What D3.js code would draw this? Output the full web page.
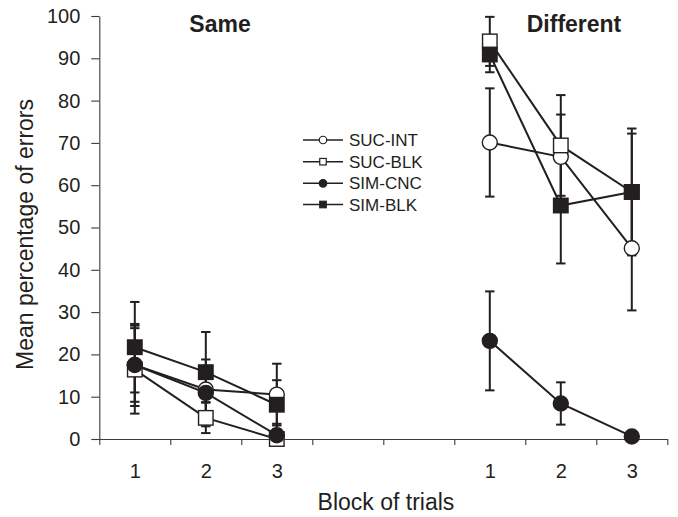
<!DOCTYPE html>
<html>
<head>
<meta charset="utf-8">
<script src="https://cdn.jsdelivr.net/npm/d3@7"></script>
<style>
  body { margin: 0; background: #fff; }
  svg { display: block; font-family: "Liberation Sans", Arial, Helvetica, sans-serif; }
</style>
</head>
<body>
<svg id="chart" width="678" height="517"></svg>
<script>
// ---- data ----
const groups = ["Same", "Different"];
const blocks = ["1", "2", "3"];
const seriesNames = ["SUC-INT", "SUC-BLK", "SIM-CNC", "SIM-BLK"];
const seriesFill = ["#fff", "#fff", "#231f20", "#231f20"];
const seriesShape = ["circle", "square", "circle", "square"];

// means: [Same b1,b2,b3, Different b1,b2,b3]
const sucInt = [17.5, 11.7, 10.5, 70.1, 66.7, 45.1];
const sucBlk = [16.4, 5.0, 0.0, 94.0, 69.4, 58.4];
const simCnc = [17.5, 10.9, 0.9, 23.2, 8.4, 0.6];
const simBlk = [21.7, 15.8, 8.1, 90.9, 55.2, 58.4];

// error (half-width)
const sucIntErr = [9.7, 3.0, 7.3, 12.8, 10.0, 14.7];
const sucBlkErr = [10.4, 3.6, 2.2, 5.8, 11.9, 13.8];
const simCncErr = [8.7, 7.9, 2.7, 11.7, 5.0, 0.4];
const simBlkErr = [10.7, 9.5, 5.8, 4.2, 13.7, 15.0];

const yTicks = [0, 10, 20, 30, 40, 50, 60, 70, 80, 90, 100];
const xTickSlots = [0, 1, 2, 3, 4, 5, 6, 7, 8];
const pointSlots = [0.5, 1.5, 2.5, 5.5, 6.5, 7.5];

const seriesValues = [sucInt, sucBlk, simCnc, simBlk];
const seriesErrors = [sucIntErr, sucBlkErr, simCncErr, simBlkErr];

// ---- drawing ----
const ink = "#231f20";
const svg = d3.select("#chart");
const x = d3.scaleLinear().domain([0, 8]).range([99.3, 667.3]);
const y = d3.scaleLinear().domain([0, 100]).range([439, 16]);

// axes
const yAxis = svg.append("g").attr("transform", `translate(${x(0)},0)`)
  .call(d3.axisLeft(y).tickValues(yTicks).tickSize(8).tickSizeOuter(0).tickPadding(11));
const xAxis = svg.append("g").attr("transform", `translate(0,${y(0)})`)
  .call(d3.axisBottom(x).tickValues(xTickSlots).tickSize(6).tickSizeOuter(0).tickFormat(""));
const xLab = svg.append("g").attr("transform", `translate(0,${y(0)})`)
  .call(d3.axisBottom(x).tickValues(pointSlots).tickSize(0).tickPadding(25)
    .tickFormat((d, i) => blocks[i % 3]));
xLab.select(".domain").remove();

[yAxis, xAxis, xLab].forEach(g => {
  g.selectAll("path,line").attr("stroke", "#3a3a3a").attr("stroke-width", 1.1);
  g.selectAll("text").attr("font-size", 20).attr("fill", ink)
    .attr("font-family", "Liberation Sans, Arial, sans-serif");
});

// axis titles
svg.append("text").attr("x", 386).attr("y", 510).attr("text-anchor", "middle")
  .attr("font-size", 23).attr("fill", ink).text("Block of trials");
svg.append("text").attr("transform", `translate(33,${(97 + 372) / 2}) rotate(-90)`)
  .attr("text-anchor", "middle").attr("font-size", 23).attr("fill", ink)
  .text("Mean percentage of errors");

// group titles
svg.append("text").attr("x", 220).attr("y", 32).attr("text-anchor", "middle")
  .attr("font-size", 23).attr("font-weight", "bold").attr("fill", ink).text(groups[0]);
svg.append("text").attr("x", 574).attr("y", 32).attr("text-anchor", "middle")
  .attr("font-size", 23).attr("font-weight", "bold").attr("fill", ink).text(groups[1]);

// error bars
const capW = 4.7;
seriesValues.forEach((vals, s) => {
  const g = svg.append("g").attr("stroke", ink).attr("stroke-width", 2);
  vals.forEach((v, i) => {
    const e = seriesErrors[s][i];
    const cx = x(pointSlots[i]);
    const hi = v + e, lo = Math.max(0, v - e);
    g.append("line").attr("x1", cx).attr("x2", cx).attr("y1", y(hi)).attr("y2", y(lo));
    g.append("line").attr("x1", cx - capW).attr("x2", cx + capW).attr("y1", y(hi)).attr("y2", y(hi));
    if (v - e > 0)
      g.append("line").attr("x1", cx - capW).attr("x2", cx + capW).attr("y1", y(lo)).attr("y2", y(lo));
  });
});

// lines (each group separately)
const line = d3.line().x(d => x(d[0])).y(d => y(d[1]));
seriesValues.forEach((vals, s) => {
  [[0, 1, 2], [3, 4, 5]].forEach(idx => {
    svg.append("path")
      .attr("d", line(idx.map(i => [pointSlots[i], vals[i]])))
      .attr("fill", "none").attr("stroke", ink).attr("stroke-width", 2);
  });
});

// markers
function marker(g, shape, cx, cy, size, fill, sw) {
  if (shape === "circle") {
    g.append("circle").attr("cx", cx).attr("cy", cy).attr("r", size / 2)
      .attr("fill", fill).attr("stroke", ink).attr("stroke-width", sw);
  } else {
    g.append("rect").attr("x", cx - size / 2).attr("y", cy - size / 2)
      .attr("width", size).attr("height", size)
      .attr("fill", fill).attr("stroke", ink).attr("stroke-width", sw);
  }
}
seriesValues.forEach((vals, s) => {
  const g = svg.append("g");
  vals.forEach((v, i) => {
    marker(g, seriesShape[s], x(pointSlots[i]), y(v), seriesShape[s] === "circle" ? 15 : 14.5, seriesFill[s], 1.4);
  });
});

// legend
const legY = [140, 161.7, 183.3, 204.5];
seriesNames.forEach((name, s) => {
  const g = svg.append("g").attr("transform", `translate(0,${legY[s]})`);
  g.append("line").attr("x1", 303).attr("x2", 343).attr("y1", 0).attr("y2", 0)
    .attr("stroke", ink).attr("stroke-width", 1.6);
  marker(g, seriesShape[s], 323, 0, seriesShape[s] === "circle" ? 7.5 : 6.5, seriesFill[s], 1.2);
  g.append("text").attr("x", 349).attr("y", 0).attr("dy", "0.36em")
    .attr("font-size", 17).attr("fill", ink).text(name);
});
</script>
</body>
</html>
